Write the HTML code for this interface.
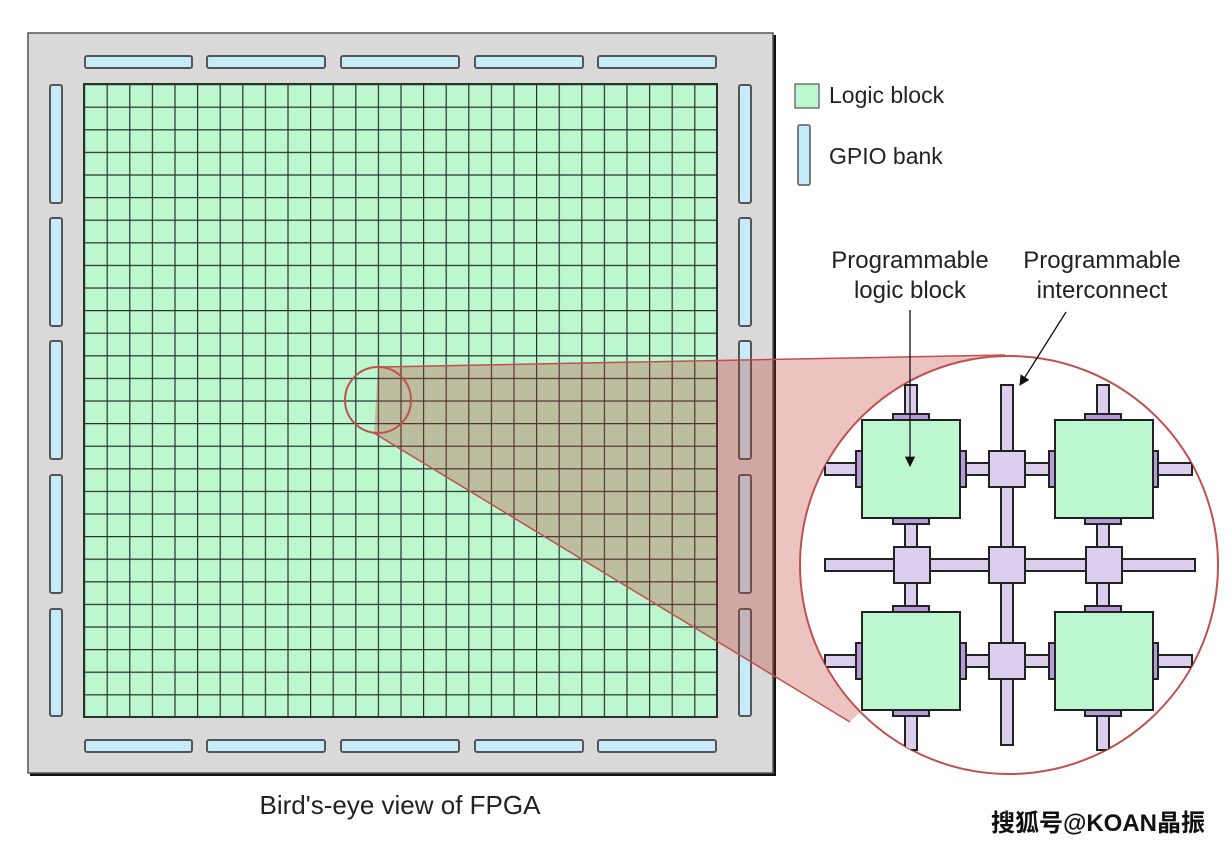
<!DOCTYPE html>
<html><head><meta charset="utf-8"><style>
html,body{margin:0;padding:0;background:#fff;width:1232px;height:848px;overflow:hidden}
svg{display:block}
text{font-family:"Liberation Sans",Arial,sans-serif;fill:#222}
</style></head><body>
<svg width="1232" height="848" viewBox="0 0 1232 848" xmlns="http://www.w3.org/2000/svg">
<defs>
<pattern id="g" x="84" y="84" width="22.6" height="22.6" patternUnits="userSpaceOnUse">
<rect width="22.6" height="22.6" fill="#bdf7d0"/>
<path d="M0 0H22.6M0 0V22.6" stroke="#26332b" stroke-width="2.4" fill="none"/>
</pattern>
<clipPath id="bc"><circle cx="1009" cy="565" r="209"/></clipPath>
<marker id="ar" viewBox="0 0 10 10" refX="9" refY="5" markerWidth="8" markerHeight="8" orient="auto"><path d="M0 0L10 5L0 10z" fill="#111"/></marker>
</defs>
<rect x="30" y="35" width="746" height="741" fill="#111"/>
<rect x="28" y="33" width="745" height="740" fill="#d9d9d9" stroke="#555" stroke-width="1.5"/>
<rect x="84" y="84" width="633" height="633" fill="url(#g)" stroke="#26332b" stroke-width="2"/>
<g fill="#c6ecfb" stroke="#555" stroke-width="2">
<rect x="85" y="56" width="107" height="12" rx="2"/><rect x="207" y="56" width="118" height="12" rx="2"/><rect x="341" y="56" width="118" height="12" rx="2"/><rect x="475" y="56" width="108" height="12" rx="2"/><rect x="598" y="56" width="118" height="12" rx="2"/>
<rect x="85" y="740" width="107" height="12" rx="2"/><rect x="207" y="740" width="118" height="12" rx="2"/><rect x="341" y="740" width="118" height="12" rx="2"/><rect x="475" y="740" width="108" height="12" rx="2"/><rect x="598" y="740" width="118" height="12" rx="2"/>
<rect x="50" y="85" width="12" height="118" rx="2"/><rect x="50" y="218" width="12" height="108" rx="2"/><rect x="50" y="341" width="12" height="118" rx="2"/><rect x="50" y="475" width="12" height="118" rx="2"/><rect x="50" y="609" width="12" height="107" rx="2"/>
<rect x="739" y="85" width="12" height="118" rx="2"/><rect x="739" y="218" width="12" height="108" rx="2"/><rect x="739" y="341" width="12" height="118" rx="2"/><rect x="739" y="475" width="12" height="118" rx="2"/><rect x="739" y="609" width="12" height="107" rx="2"/>
</g>
<polygon points="378,367 1005,355 1009,565 850,722 374,433" fill="rgba(190,60,50,0.3)"/>
<line x1="378" y1="367" x2="1005" y2="355" stroke="#c0504d" stroke-width="1.5"/>
<line x1="374" y1="433" x2="850" y2="722" stroke="#c0504d" stroke-width="1.5"/>
<circle cx="378" cy="400" r="33" fill="none" stroke="#c0504d" stroke-width="2"/>
<circle cx="1009" cy="565" r="209" fill="#fff" stroke="#c0504d" stroke-width="2"/>
<g clip-path="url(#bc)" stroke="#222" stroke-width="2">
<g fill="#dccfee">
<rect x="1001" y="385" width="12" height="360"/>
<rect x="825" y="559" width="370" height="12"/>
<rect x="905" y="385" width="12" height="35"/><rect x="1097" y="385" width="12" height="35"/>
<rect x="905" y="518" width="12" height="94"/><rect x="1097" y="518" width="12" height="94"/>
<rect x="905" y="710" width="12" height="40"/><rect x="1097" y="710" width="12" height="40"/>
<rect x="825" y="463" width="37" height="12"/><rect x="960" y="463" width="95" height="12"/><rect x="1152" y="463" width="40" height="12"/>
<rect x="825" y="655" width="37" height="12"/><rect x="960" y="655" width="95" height="12"/><rect x="1152" y="655" width="40" height="12"/>
</g>
<g fill="#b89ad8">
<rect x="893" y="414" width="36" height="7"/><rect x="1085" y="414" width="36" height="7"/>
<rect x="893" y="517" width="36" height="7"/><rect x="1085" y="517" width="36" height="7"/>
<rect x="893" y="606" width="36" height="7"/><rect x="1085" y="606" width="36" height="7"/>
<rect x="893" y="709" width="36" height="7"/><rect x="1085" y="709" width="36" height="7"/>
<rect x="856" y="451" width="7" height="36"/><rect x="959" y="451" width="7" height="36"/><rect x="1049" y="451" width="7" height="36"/><rect x="1151" y="451" width="7" height="36"/>
<rect x="856" y="643" width="7" height="36"/><rect x="959" y="643" width="7" height="36"/><rect x="1049" y="643" width="7" height="36"/><rect x="1151" y="643" width="7" height="36"/>
</g>
<g fill="#bdf7d0">
<rect x="862" y="420" width="98" height="98"/><rect x="1055" y="420" width="98" height="98"/>
<rect x="862" y="612" width="98" height="98"/><rect x="1055" y="612" width="98" height="98"/>
</g>
<g fill="#dccfee">
<rect x="989" y="451" width="36" height="36"/><rect x="894" y="547" width="36" height="36"/><rect x="989" y="547" width="36" height="36"/><rect x="1086" y="547" width="36" height="36"/><rect x="989" y="643" width="36" height="36"/>
</g>
</g>
<line x1="910" y1="310" x2="910" y2="466" stroke="#111" stroke-width="1.3" marker-end="url(#ar)"/>
<line x1="1066" y1="312" x2="1020" y2="385" stroke="#111" stroke-width="1.3" marker-end="url(#ar)"/>
<text x="910" y="268" font-size="24" text-anchor="middle">Programmable</text>
<text x="910" y="298" font-size="24" text-anchor="middle">logic block</text>
<text x="1102" y="268" font-size="24" text-anchor="middle">Programmable</text>
<text x="1102" y="298" font-size="24" text-anchor="middle">interconnect</text>
<rect x="795" y="84" width="24" height="24" fill="#bdf7d0" stroke="#555" stroke-width="1.2"/>
<text x="829" y="103" font-size="23">Logic block</text>
<rect x="798" y="125" width="12" height="60" rx="2" fill="#c6ecfb" stroke="#555" stroke-width="1.5"/>
<text x="829" y="164" font-size="23">GPIO bank</text>
<text x="400" y="814" font-size="26" text-anchor="middle">Bird's-eye view of FPGA</text>
<text x="1098" y="831" font-size="24" text-anchor="middle" style="font-family:'Liberation Sans','Noto Sans CJK SC',sans-serif;fill:#111;font-weight:bold">搜狐号@KOAN晶振</text>
</svg>
</body></html>
